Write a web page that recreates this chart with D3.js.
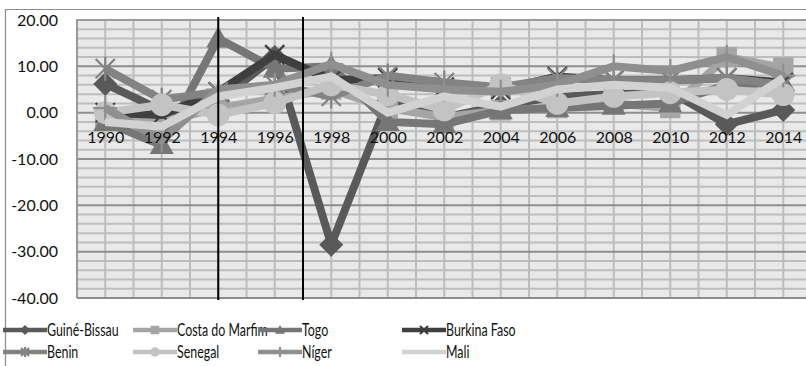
<!DOCTYPE html>
<html>
<head>
<meta charset="utf-8">
<script src="https://cdn.jsdelivr.net/npm/d3@7"></script>
<style>
  html, body { margin: 0; padding: 0; background: #fff; }
  svg { display: block; }
  text { font-family: Lato, "Open Sans", sans-serif; fill: #111; }
</style>
</head>
<body>
<svg id="chart" width="806" height="366"></svg>
<script>
// Annual growth by country, 1990–2014 (every second year)
const years = [1990, 1992, 1994, 1996, 1998, 2000, 2002, 2004, 2006, 2008, 2010, 2012, 2014];

const guineBissau    = [6.2, 0.5, 2.5, 12.0, -28.5, 2.5, -1.0, 1.5, 3.5, 4.0, 4.5, -2.5, 0.6];
const costaDoMarfim  = [-1.0, -2.0, 1.0, 3.0, 5.0, 1.0, -1.0, 0.5, 1.0, 2.0, 1.0, 12.0, 9.7];
const togo           = [-2.0, -7.0, 16.0, 9.5, 10.0, -2.0, -2.5, 0.5, 1.0, 1.5, 2.0, 6.0, 6.5];
const burkinaFaso    = [0.0, -0.5, 4.5, 12.5, 7.0, 7.5, 5.5, 5.0, 7.8, 7.0, 7.0, 7.5, 6.5];
const benin          = [9.5, 2.8, 4.5, 6.0, 3.5, 8.0, 6.5, 5.5, 7.5, 7.0, 7.0, 7.5, 6.0];
const senegal        = [0.0, 1.7, -0.5, 2.1, 6.0, 3.9, 0.6, 6.0, 2.0, 3.5, 4.3, 5.0, 3.9];
const niger          = [1.0, -6.0, 5.0, 6.0, 10.5, 6.0, 5.0, 4.5, 6.0, 10.0, 9.0, 12.0, 8.0];
const mali           = [-2.0, -3.0, 3.5, 5.4, 7.8, 0.0, 3.5, 1.3, 5.0, 6.0, 5.4, -0.5, 7.5];

const seriesNames = ["Guiné-Bissau", "Costa do Marfim", "Togo", "Burkina Faso",
                     "Benin", "Senegal", "Níger", "Mali"];
const seriesValues = [guineBissau, costaDoMarfim, togo, burkinaFaso,
                      benin, senegal, niger, mali];
const seriesColors = ["#595959", "#a5a5a5", "#767676", "#3f3f3f",
                      "#838383", "#c3c3c3", "#8f8f8f", "#d2d2d2"];
const seriesMarkers = ["diamond", "square", "triangle", "x", "star", "circle", "plus", "none"];

const yTicks = [20, 10, 0, -10, -20, -30, -40];
const markedYears = [1994, 1997];

const svg = d3.select("#chart");
const W = 806, H = 366;

// chart frame
svg.append("rect").attr("width", W).attr("height", H).attr("fill", "#fff");
svg.append("path")
  .attr("d", `M5.5,${H} V9.5 H${W}`)
  .attr("fill", "none").attr("stroke", "#8c8c8c").attr("stroke-width", 1.2);

const plot = { left: 77, top: 20, bottom: 298 };

const x = d3.scaleLinear().domain([1989, 2015]).range([plot.left, plot.left + 26 * 28.25]);
const y = d3.scaleLinear().domain([-40, 20]).range([plot.bottom, plot.top]);

svg.append("clipPath").attr("id", "plotclip")
  .append("rect").attr("x", plot.left).attr("y", plot.top - 4)
  .attr("width", W - plot.left).attr("height", plot.bottom - plot.top + 8);

// plot background
svg.append("rect")
  .attr("x", plot.left).attr("y", plot.top)
  .attr("width", W - plot.left).attr("height", plot.bottom - plot.top)
  .attr("fill", "#e9e9e9");

const grid = svg.append("g");
// minor horizontal gridlines every 2 units
grid.selectAll("line.hmin")
  .data(d3.range(-40, 20.001, 2).filter(v => v % 10 !== 0))
  .join("line")
  .attr("x1", plot.left).attr("x2", W)
  .attr("y1", d => y(d)).attr("y2", d => y(d))
  .attr("stroke", "#bdbdbd").attr("stroke-width", 2);
// vertical gridlines at every year
grid.selectAll("line.v")
  .data(d3.range(1989, 2016))
  .join("line")
  .attr("x1", d => x(d)).attr("x2", d => x(d))
  .attr("y1", plot.top).attr("y2", plot.bottom)
  .attr("stroke", "#bdbdbd").attr("stroke-width", 2);
// major horizontal gridlines
grid.selectAll("line.hmaj")
  .data(yTicks)
  .join("line")
  .attr("x1", plot.left).attr("x2", W)
  .attr("y1", d => y(d)).attr("y2", d => y(d))
  .attr("stroke", "#8e8e8e").attr("stroke-width", 2);
// plot border (left/top)
svg.append("path")
  .attr("d", `M${plot.left},${plot.bottom} V${plot.top} H${W}`)
  .attr("fill", "none").attr("stroke", "#9a9a9a").attr("stroke-width", 2);

// y axis labels
const yAxis = d3.axisLeft(y).tickValues(yTicks).tickSize(0).tickPadding(0)
  .tickFormat(d => d.toFixed(2));
const yG = svg.append("g").attr("transform", `translate(58,0)`).call(yAxis);
yG.select(".domain").remove();
yG.selectAll("text").attr("font-size", 16).attr("font-family", "Lato, sans-serif").attr("fill", "#111");

// series
const lineGen = d3.line().x((d, i) => x(years[i])).y(d => y(d));
const layer = svg.append("g").attr("clip-path", "url(#plotclip)");

function drawMarker(g, type, cx, cy, color, s) {
  switch (type) {
    case "diamond":
      g.append("path").attr("d", `M${cx},${cy - s} L${cx + s},${cy} L${cx},${cy + s} L${cx - s},${cy} Z`)
        .attr("fill", color); break;
    case "square":
      g.append("rect").attr("x", cx - s * 0.85).attr("y", cy - s * 0.85)
        .attr("width", s * 1.7).attr("height", s * 1.7).attr("fill", color); break;
    case "triangle":
      g.append("path").attr("d", `M${cx},${cy - s} L${cx + s},${cy + s * 0.75} L${cx - s},${cy + s * 0.75} Z`)
        .attr("fill", color); break;
    case "circle":
      g.append("circle").attr("cx", cx).attr("cy", cy).attr("r", s * 0.95).attr("fill", color); break;
    case "x":
      g.append("path").attr("d", `M${cx - s * 0.8},${cy - s * 0.8} L${cx + s * 0.8},${cy + s * 0.8} M${cx + s * 0.8},${cy - s * 0.8} L${cx - s * 0.8},${cy + s * 0.8}`)
        .attr("stroke", color).attr("stroke-width", 2.2); break;
    case "star":
      g.append("path").attr("d", `M${cx - s * 0.8},${cy - s * 0.8} L${cx + s * 0.8},${cy + s * 0.8} M${cx + s * 0.8},${cy - s * 0.8} L${cx - s * 0.8},${cy + s * 0.8} M${cx},${cy - s} V${cy + s}`)
        .attr("stroke", color).attr("stroke-width", 2.2); break;
    case "plus":
      g.append("path").attr("d", `M${cx},${cy - s} V${cy + s} M${cx - s},${cy} H${cx + s}`)
        .attr("stroke", color).attr("stroke-width", 2.2); break;
  }
}

seriesValues.forEach((vals, si) => {
  const g = layer.append("g");
  g.append("path").datum(vals)
    .attr("d", lineGen)
    .attr("fill", "none")
    .attr("stroke", seriesColors[si])
    .attr("stroke-width", 8)
    .attr("stroke-linejoin", "miter");
  vals.forEach((v, i) => drawMarker(g, seriesMarkers[si], x(years[i]), y(v), seriesColors[si], 12));
});

// x axis labels just below the zero line, above the series
const xAxis = d3.axisBottom(x).tickValues(years).tickSize(0).tickPadding(0)
  .tickFormat(d3.format("d"));
const xG = svg.append("g").attr("transform", `translate(0,${y(0) + 30})`).call(xAxis);
xG.select(".domain").remove();
xG.selectAll("text").attr("font-size", 16).attr("font-family", "Lato, sans-serif")
  .attr("fill", "#111").attr("dy", "0");

// reference lines for selected years
svg.selectAll("line.mark")
  .data(markedYears)
  .join("line")
  .attr("x1", d => x(d)).attr("x2", d => x(d))
  .attr("y1", 17).attr("y2", 300)
  .attr("stroke", "#000").attr("stroke-width", 2);

// legend
const legendCols = [3, 133, 258, 402];
const legendRows = [330, 352];
const lg = svg.append("g");
seriesNames.forEach((name, i) => {
  const col = i % 4, row = Math.floor(i / 4);
  const lx = legendCols[col], ly = legendRows[row];
  const item = lg.append("g");
  item.append("line").attr("x1", lx).attr("x2", lx + 44).attr("y1", ly).attr("y2", ly)
    .attr("stroke", seriesColors[i]).attr("stroke-width", 4.5);
  drawMarker(item, seriesMarkers[i], lx + 22, ly, seriesColors[i], 5);
  // condensed label text
  item.append("text")
    .attr("transform", `translate(${lx + 44},${ly}) scale(0.73,1)`)
    .attr("dy", "0.36em")
    .attr("font-size", 17).text(name);
});
</script>
</body>
</html>
